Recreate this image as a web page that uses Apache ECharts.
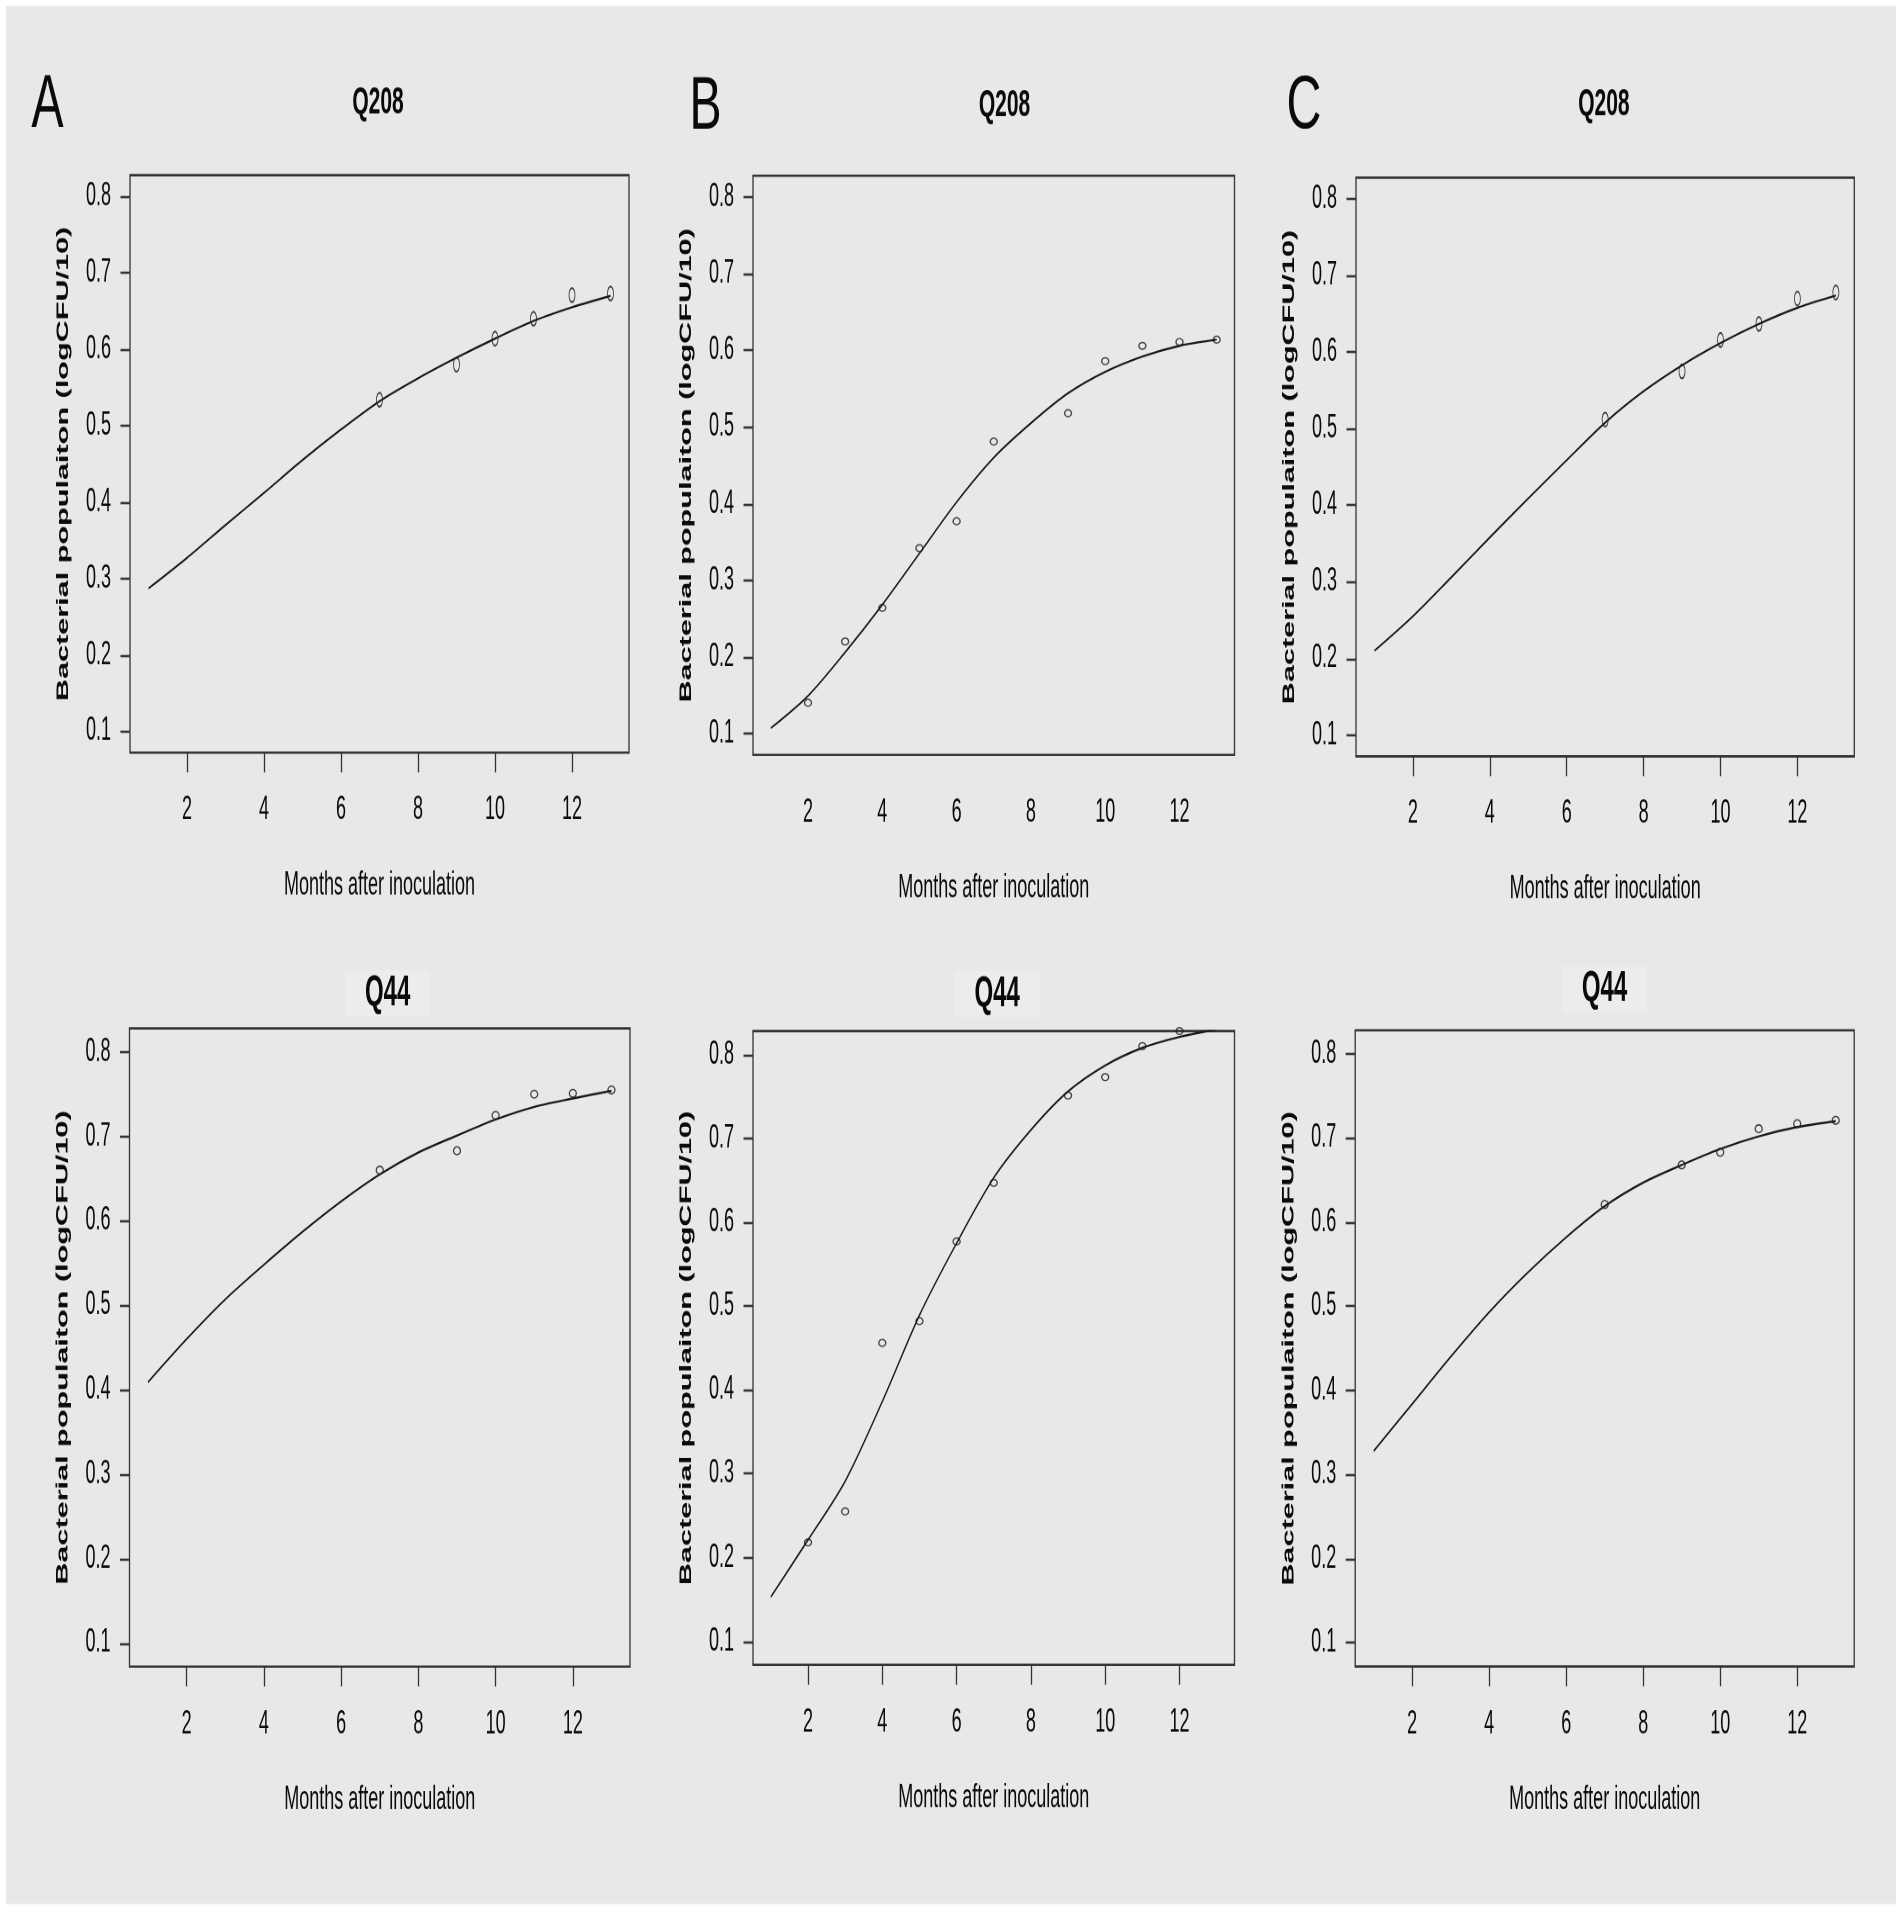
<!DOCTYPE html>
<html>
<head>
<meta charset="utf-8">
<title>Bacterial population growth Q208 / Q44</title>
<script src="https://cdn.jsdelivr.net/npm/echarts@6/dist/echarts.min.js"></script>
<style>
  html, body { margin: 0; padding: 0; background: #fff; }
  #page { width: 1902px; height: 1912px; overflow: hidden; position: relative; }
  /* the original figure is stretched vertically (~1.8x), so draw flat and stretch the whole chart */
  #chart { position: absolute; left: 0; top: 0; width: 1902px; height: 1062px; transform: scaleY(1.8); transform-origin: 0 0; }
</style>
</head>
<body>
<div id="page"><div id="chart"></div></div>
<script>
// ---- data ----
const fitMonths = [1, 2, 3, 4, 5, 6, 7, 8, 9, 10, 11, 12, 13];
const lateMonths = [7, 9, 10, 11, 12, 13];
const allMonths = [2, 3, 4, 5, 6, 7, 9, 10, 11, 12, 13];
const xTicks = [2, 4, 6, 8, 10, 12];
const yTicks = [0.1, 0.2, 0.3, 0.4, 0.5, 0.6, 0.7, 0.8];

// top row, Q208
const q208A_obs = [0.534, 0.580, 0.614, 0.640, 0.671, 0.673];
const q208A_fit = [0.287, 0.327, 0.370, 0.412, 0.455, 0.495, 0.532, 0.562, 0.589, 0.614, 0.637, 0.655, 0.670];
const q208B_obs = [0.140, 0.220, 0.264, 0.342, 0.377, 0.481, 0.518, 0.586, 0.606, 0.611, 0.614];
const q208B_fit = [0.107, 0.149, 0.206, 0.268, 0.335, 0.402, 0.460, 0.505, 0.544, 0.572, 0.592, 0.606, 0.614];
const q208C_obs = [0.512, 0.575, 0.616, 0.637, 0.670, 0.678];
const q208C_fit = [0.210, 0.255, 0.306, 0.358, 0.409, 0.459, 0.508, 0.549, 0.583, 0.612, 0.637, 0.658, 0.674];

// bottom row, Q44
const q44A_obs = [0.660, 0.683, 0.725, 0.750, 0.751, 0.755];
const q44A_fit = [0.409, 0.460, 0.507, 0.548, 0.587, 0.623, 0.655, 0.681, 0.701, 0.720, 0.735, 0.745, 0.754];
const q44B_obs = [0.218, 0.255, 0.456, 0.482, 0.577, 0.647, 0.751, 0.773, 0.810, 0.828, 0.832];
const q44B_fit = [0.153, 0.221, 0.291, 0.386, 0.489, 0.575, 0.653, 0.710, 0.756, 0.787, 0.808, 0.821, 0.830];
const q44C_obs = [0.621, 0.668, 0.683, 0.711, 0.717, 0.721];
const q44C_fit = [0.328, 0.384, 0.440, 0.493, 0.540, 0.582, 0.619, 0.647, 0.668, 0.687, 0.702, 0.713, 0.720];

const xName = 'Months after inoculation';
const yName = 'Bacterial populaiton (logCFU/10)';

// ---- layout (in unstretched px) ----
const FONT = '"Liberation Sans", Arial, sans-serif';
const INK = '#0a0a0a';

var panels = [
  {box: [130, 97.3, 499, 320.8], obsX: lateMonths, obs: q208A_obs, fit: q208A_fit, sym: [6, 7.8], xTick: true},
  {box: [753, 97.6, 481.5, 321.8], obsX: allMonths, obs: q208B_obs, fit: q208B_fit, sym: [7, 3.8], xTick: false},
  {box: [1356, 98.7, 498.3, 321.5], obsX: lateMonths, obs: q208C_obs, fit: q208C_fit, sym: [6, 7.8], xTick: true},
  {box: [129.5, 571.3, 500.5, 354.6], obsX: lateMonths, obs: q44A_obs, fit: q44A_fit, sym: [7, 4.3], xTick: true},
  {box: [753, 572.8, 481.5, 352.1], obsX: allMonths, obs: q44B_obs, fit: q44B_fit, sym: [7, 3.8], xTick: true},
  {box: [1355.2, 572.4, 499, 353.4], obsX: lateMonths, obs: q44C_obs, fit: q44C_fit, sym: [7, 4.3], xTick: true}
];

var titles = [
  {text: 'Q208', x: 378, y: 57.2, size: 21},
  {text: 'Q208', x: 1004.5, y: 58.6, size: 21},
  {text: 'Q208', x: 1603.9, y: 58.1, size: 21},
  {text: 'Q44', x: 387.7, y: 552, size: 24},
  {text: 'Q44', x: 997.2, y: 552.2, size: 24},
  {text: 'Q44', x: 1604.5, y: 549.6, size: 24}
];

var letters = [
  {text: 'A', x: 47.5, y: 58.9},
  {text: 'B', x: 705.5, y: 59.7},
  {text: 'C', x: 1304, y: 59.2}
];

function zip(xs, ys) {
  return xs.map((x, i) => [x, ys[i]]);
}

var chart = echarts.init(document.getElementById('chart'), null, {renderer: 'canvas', devicePixelRatio: 2});

var graphics = [
  {type: 'rect', z: -10, silent: true, shape: {x: 6, y: 3.3, width: 1890, height: 1054.5}, style: {fill: '#e8e8e8'}}
];
letters.forEach((l) => {
  graphics.push({
    type: 'text', x: l.x, y: l.y, scaleX: 1.15, silent: true,
    style: {text: l.text, font: '42px ' + FONT, fill: INK,
            align: 'center', verticalAlign: 'middle', textAlign: 'center', textVerticalAlign: 'middle'}
  });
});
titles.forEach((t) => {
  graphics.push({
    type: 'text', x: t.x, y: t.y, silent: true,
    style: {text: t.text, font: 'bold ' + t.size + 'px ' + FONT, fill: INK,
            align: 'center', verticalAlign: 'middle', textAlign: 'center', textVerticalAlign: 'middle',
            backgroundColor: t.text == 'Q44' ? '#ececec' : null, padding: [1, 20]}
  });
});

var option = {
  backgroundColor: '#fff',
  animation: false,
  graphic: graphics,
  grid: panels.map((p) => ({
    left: p.box[0], top: p.box[1], width: p.box[2], height: p.box[3],
    show: true, borderColor: '#333', borderWidth: 1.3, backgroundColor: 'transparent'
  })),
  xAxis: panels.map((p, i) => ({
    type: 'value', gridIndex: i, min: 0.52, max: 13.48,
    name: xName, nameLocation: 'middle', nameGap: 65,
    nameTextStyle: {fontFamily: FONT, fontSize: 18, color: INK},
    axisLine: {show: false, onZero: false},
    splitLine: {show: false},
    axisTick: {show: p.xTick, length: 11, customValues: xTicks, lineStyle: {color: '#333', width: 1.3}},
    axisLabel: {customValues: xTicks, margin: 23, fontFamily: FONT, fontSize: 18, color: INK}
  })),
  yAxis: panels.map((p, i) => ({
    type: 'value', gridIndex: i, min: 0.072, max: 0.828,
    name: yName, nameLocation: 'middle', nameGap: 58,
    nameTextStyle: {fontFamily: FONT, fontSize: 17, fontWeight: 'bold', color: INK},
    axisLine: {show: false, onZero: false},
    splitLine: {show: false},
    axisTick: {length: 9.5, customValues: yTicks, lineStyle: {color: '#333', width: 1.3}},
    axisLabel: {customValues: yTicks, margin: 19, fontFamily: FONT, fontSize: 18, color: INK,
                formatter: (v) => v.toFixed(1)}
  })),
  series: []
};

panels.forEach((p, i) => {
  option.series.push({
    type: 'line', xAxisIndex: i, yAxisIndex: i,
    data: zip(fitMonths, p.fit),
    smooth: 0.3, showSymbol: false, silent: true,
    lineStyle: {color: '#1a1a1a', width: 1.2}
  });
  option.series.push({
    type: 'scatter', xAxisIndex: i, yAxisIndex: i,
    data: zip(p.obsX, p.obs),
    symbol: 'circle', symbolSize: p.sym, silent: true,
    itemStyle: {color: 'rgba(0,0,0,0)', borderColor: '#1a1a1a', borderWidth: 1}
  });
});

chart.setOption(option);
</script>
</body>
</html>
